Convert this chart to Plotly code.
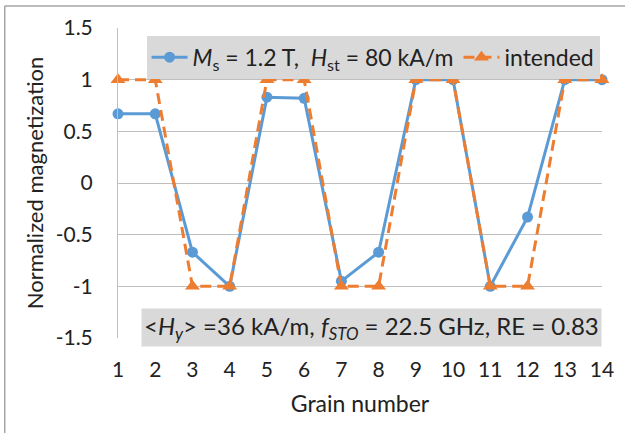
import plotly.graph_objects as go

grain = list(range(1, 15))
simulated = [0.67, 0.67, -0.67, -1.0, 0.83, 0.82, -0.95, -0.67, 1.0, 1.0, -1.0, -0.33, 1.0, 1.0]
intended = [1, 1, -1, -1, 1, 1, -1, -1, 1, 1, -1, -1, 1, 1]
y_ticks = [-1.5, -1, -0.5, 0, 0.5, 1, 1.5]
y_ticktext = ["-1.5", "-1", "-0.5", "0", "0.5", "1", "1.5"]

BLUE = "#5B9BD5"
ORANGE = "#ED7D31"
FONT = "Lato"

fig = go.Figure()
fig.add_trace(go.Scatter(
    x=grain, y=simulated, mode="lines+markers",
    name="<i>M</i><sub>s</sub> = 1.2 T,  <i>H</i><sub>st</sub> = 80 kA/m",
    line=dict(color=BLUE, width=3),
    marker=dict(symbol="circle", size=11, color=BLUE),
    cliponaxis=False,
))
fig.add_trace(go.Scatter(
    x=grain, y=intended, mode="lines+markers",
    name="intended",
    line=dict(color=ORANGE, width=3, dash="11px,6px"),
    marker=dict(symbol="triangle-up", size=13, color=ORANGE),
    cliponaxis=False,
))

fig.update_layout(
    width=625, height=433,
    margin=dict(l=118, r=23, t=28, b=95),
    paper_bgcolor="white", plot_bgcolor="white",
    font=dict(family=FONT, size=21, color="#222222"),
    legend=dict(
        orientation="h", x=0.995, xanchor="right", y=0.975, yanchor="top",
        bgcolor="#D9D9D9", font=dict(size=23), itemwidth=36,
        tracegroupgap=0,
    ),
    xaxis=dict(
        range=[1, 14], tickmode="array", tickvals=grain,
        ticktext=[str(g) for g in grain],
        showgrid=False, zeroline=False, showline=False,
        ticks="", ticklabelstandoff=17,
        title=dict(text="Grain number", standoff=15, font=dict(family=FONT, size=23)),
    ),
    yaxis=dict(
        range=[-1.5, 1.5], tickmode="array", tickvals=y_ticks, ticktext=y_ticktext,
        showgrid=True, gridcolor="#BFBFBF", gridwidth=1,
        zeroline=False, showline=True, linecolor="#BFBFBF", linewidth=1,
        ticks="", ticklabelstandoff=20,
        title=dict(text="Normalized magnetization", standoff=5, font=dict(family=FONT, size=22)),
    ),
    annotations=[dict(
        xref="paper", yref="paper", x=1.0, y=-0.03, xanchor="right", yanchor="bottom",
        text="&lt;<i>H</i><sub><i>y</i></sub>&gt; =36 kA/m, <i>f</i><sub><i>STO</i></sub> = 22.5 GHz, RE = 0.83",
        showarrow=False, bgcolor="#D9D9D9", font=dict(size=24),
        borderpad=2,
    )],
    shapes=[
        dict(type="line", xref="paper", yref="paper", x0=-0.234, x1=1.05, y0=1.071, y1=1.071,
             line=dict(color="#A6A6A6", width=1.5)),
        dict(type="line", xref="paper", yref="paper", x0=-0.234, x1=-0.234, y0=-0.33, y1=1.071,
             line=dict(color="#A6A6A6", width=1.5)),
    ],
)

fig.write_html("out.html")
